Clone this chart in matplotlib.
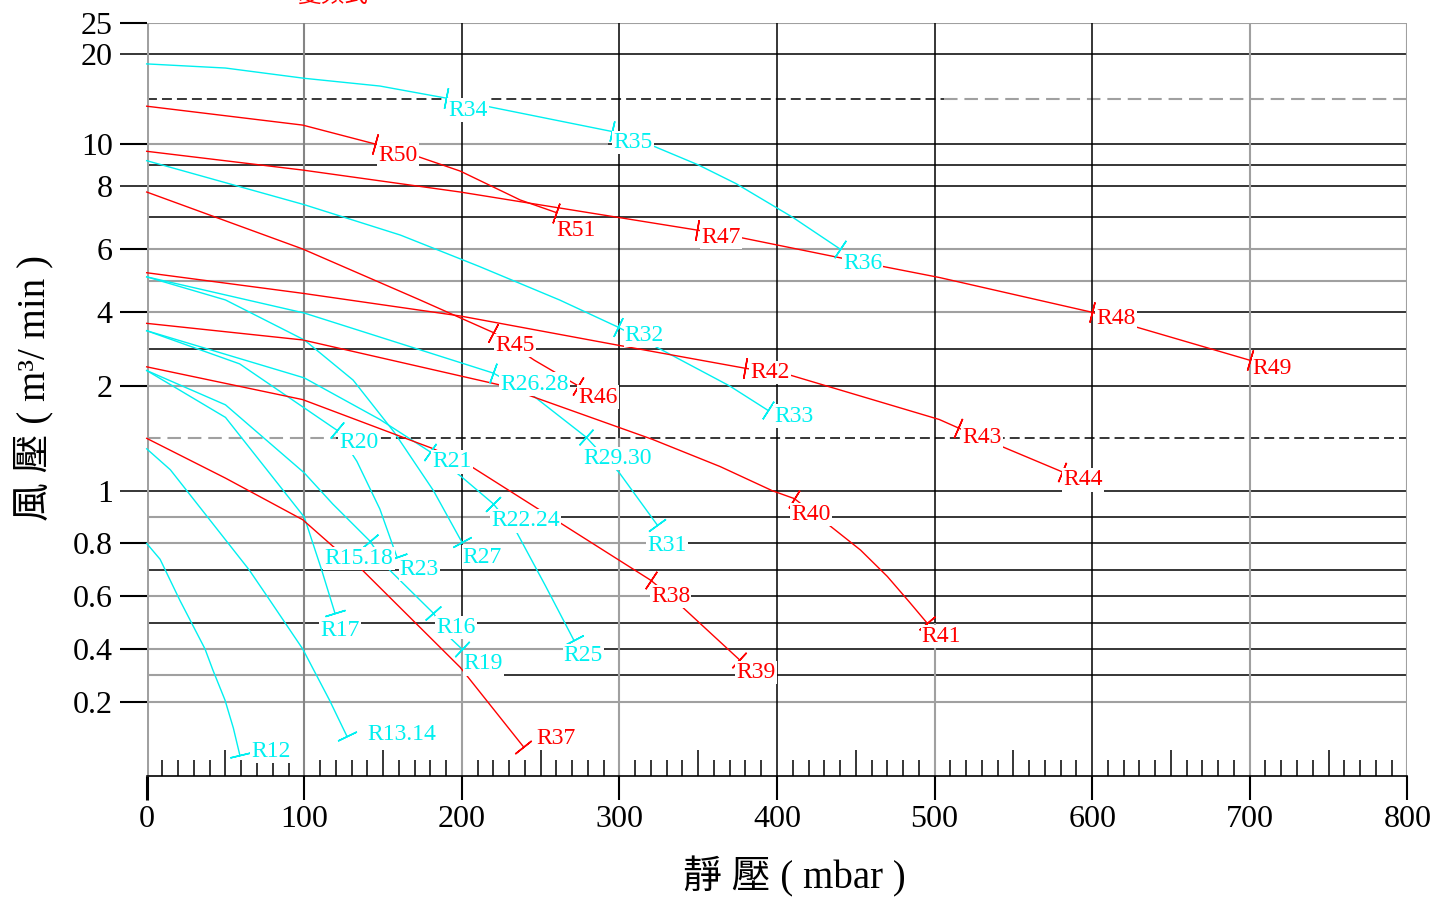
import numpy as np
import matplotlib
matplotlib.use("Agg")
import matplotlib.pyplot as plt
from matplotlib.ticker import FixedLocator

FONT = ['Liberation Serif', 'Noto Sans CJK TC']
CYAN = '#00f0f0'
RED = '#ff0000'
GRAY = '#a0a0a0'
BLACK = '#000000'

# ---- y axis: piecewise scale (value -> height above x axis) ----
scale_vals = [-0.2, 0.0, 0.2, 1, 2, 4, 8, 10, 20, 25]
scale_pos = [-31.6, 21.2, 74.0, 285.0, 389.7, 463.4, 590.0, 631.7, 721.7, 753.0]

y_ticks = [25, 20, 10, 8, 6, 4, 2, 1, 0.8, 0.6, 0.4, 0.2]
y_tick_labels = ['25', '20', '10', '8', '6', '4', '2', '1', '0.8', '0.6', '0.4', '0.2']
x_ticks = [0, 100, 200, 300, 400, 500, 600, 700, 800]

# ---- fan curves: static pressure (mbar) vs air flow (m3/min) ----
r34_x = [0, 50, 100, 148, 190, 295, 320, 350, 374, 410, 440]
r34_y = [18.9, 18.44, 17.3, 16.44, 15.1, 11.4, 9.95, 9.0, 8.1, 7.0, 6.0]
r32_x = [0, 100, 161, 211, 262, 299, 326, 370, 394]
r32_y = [9.2, 7.4, 6.44, 5.45, 4.39, 3.6, 3.0, 2.0, 1.77]
r26_x = [0, 100, 220, 245, 279, 300, 324]
r26_y = [5.12, 3.98, 2.35, 1.91, 1.51, 1.17, 0.87]
r27_x = [0, 50, 100, 131, 157, 182, 200]
r27_y = [5.12, 4.39, 3.25, 2.16, 1.56, 1.0, 0.805]
r20_x = [0, 59, 120.5, 133.4, 148, 158.7]
r20_y = [3.5, 2.6, 1.58, 1.28, 0.93, 0.75]
r21_x = [0, 100, 148, 180, 200, 220, 235, 253, 271]
r21_y = [3.5, 2.22, 1.68, 1.37, 1.13, 0.95, 0.84, 0.64, 0.434]
r15_x = [0, 50, 100, 118, 141.5, 154, 182, 192, 200]
r15_y = [2.42, 1.82, 1.17, 0.95, 0.81, 0.70, 0.535, 0.445, 0.40]
r17_x = [0, 50, 100, 111, 119.5]
r17_y = [2.42, 1.7, 0.9, 0.70, 0.535]
r13_x = [0, 15, 65, 78, 99, 116, 127]
r13_y = [1.4, 1.2, 0.70, 0.586, 0.40, 0.206, 0.07]
r12_x = [0, 8.5, 21, 27.5, 37, 42, 49.7, 55, 59]
r12_y = [0.8, 0.74, 0.585, 0.51, 0.40, 0.32, 0.206, 0.1, 0.0]

r50_x = [0, 99, 145, 172, 199, 237, 260]
r50_y = [14.2, 12.1, 10.0, 9.4, 8.7, 7.55, 7.15]
r47_x = [0, 99, 199, 299, 349, 378, 467, 503, 600, 628, 700]
r47_y = [9.65, 8.75, 7.8, 7.0, 6.6, 6.35, 5.45, 5.1, 4.0, 3.6, 2.7]
r45_x = [0, 99, 173, 220, 246, 274]
r45_y = [7.8, 6.0, 4.4, 3.45, 2.7, 2.0]
r42_x = [0, 99, 199, 300, 380, 408, 503, 515, 543, 581]
r42_y = [5.25, 4.6, 3.9, 3.1, 2.48, 2.3, 1.68, 1.6, 1.42, 1.18]
r40_x = [0, 99, 224, 321, 364, 397, 411, 434, 453, 470, 484, 495]
r40_y = [3.7, 3.25, 2.03, 1.49, 1.23, 1.0, 0.97, 0.865, 0.775, 0.675, 0.578, 0.5]
r38_x = [0, 99, 182, 205, 320, 337, 376]
r38_y = [2.52, 1.87, 1.4, 1.24, 0.66, 0.575, 0.36]
r37_x = [0, 50, 99, 118, 135, 199, 239]
r37_y = [1.5, 1.12, 0.89, 0.79, 0.71, 0.33, 0.03]

# (colour, x, y, [(point index, model name, label offset px (right, down))])
curves = [
    (CYAN, r34_x, r34_y, [(4, 'R34', (2, 12)), (5, 'R35', (2, 11)), (10, 'R36', (3, 14))]),
    (CYAN, r32_x, r32_y, [(5, 'R32', (7, 8)), (8, 'R33', (7, 6))]),
    (CYAN, r26_x, r26_y, [(2, 'R26.28', (7, 11)), (4, 'R29.30', (-3, 21)), (6, 'R31', (-10, 21))]),
    (CYAN, r27_x, r27_y, [(6, 'R27', (1, 15))]),
    (CYAN, r20_x, r20_y, [(2, 'R20', (3, 13)), (5, 'R23', (3, 13))]),
    (CYAN, r21_x, r21_y, [(3, 'R21', (2, 10)), (5, 'R22.24', (-2, 17)), (8, 'R25', (-10, 16))]),
    (CYAN, r15_x, r15_y, [(4, 'R15.18', (-45, 18)), (6, 'R16', (3, 14)), (8, 'R19', (2, 15))]),
    (CYAN, r17_x, r17_y, [(4, 'R17', (-15, 17))]),
    (CYAN, r13_x, r13_y, [(6, 'R13.14', (21, -2))]),
    (CYAN, r12_x, r12_y, [(8, 'R12', (12, -3))]),
    (RED, r50_x, r50_y, [(2, 'R50', (3, 11)), (6, 'R51', (0, 18))]),
    (RED, r47_x, r47_y, [(4, 'R47', (5, 7)), (8, 'R48', (4, 6)), (10, 'R49', (3, 8))]),
    (RED, r45_x, r45_y, [(3, 'R45', (2, 13)), (5, 'R46', (0, 11))]),
    (RED, r42_x, r42_y, [(4, 'R42', (5, 4)), (7, 'R43', (4, 10)), (9, 'R44', (1, 8))]),
    (RED, r40_x, r40_y, [(6, 'R40', (-3, 16)), (11, 'R41', (-5, 14))]),
    (RED, r38_x, r38_y, [(4, 'R38', (0, 16)), (6, 'R39', (-3, 13))]),
    (RED, r37_x, r37_y, [(6, 'R37', (13, -8))]),
]

# horizontal grid rows: (value, split x, colour left, colour right, dashed)
h_rows = [
    (25, 800, GRAY, BLACK, False), (20, 0, GRAY, BLACK, False),
    (15, 506, BLACK, GRAY, True), (10, 293, GRAY, BLACK, False),
    (9, 0, GRAY, BLACK, False), (8, 0, GRAY, BLACK, False),
    (7, 0, GRAY, BLACK, False), (6, 800, GRAY, BLACK, False),
    (5, 800, GRAY, BLACK, False), (4, 600, GRAY, BLACK, False),
    (3, 0, GRAY, BLACK, False), (2, 224, GRAY, BLACK, False),
    (1.5, 120, GRAY, BLACK, True), (1, 0, GRAY, BLACK, False),
    (0.9, 220, GRAY, BLACK, False), (0.8, 320, GRAY, BLACK, False),
    (0.7, 0, GRAY, BLACK, False), (0.6, 320, GRAY, BLACK, False),
    (0.5, 0, GRAY, BLACK, False), (0.4, 270, GRAY, BLACK, False),
    (0.3, 200, GRAY, BLACK, False), (0.2, 800, GRAY, BLACK, False),
]
# vertical grid: (x, split y, colour below, colour above)
v_rows = [
    (0, 25, GRAY, GRAY), (100, 25, '#858585', '#858585'), (200, 0.45, GRAY, BLACK),
    (300, 1.5, GRAY, BLACK), (400, -1, GRAY, BLACK), (500, 0.5, GRAY, BLACK),
    (600, -1, GRAY, BLACK), (700, 25, GRAY, GRAY), (800, 25, GRAY, GRAY),
]


def fwd(v):
    return np.interp(v, scale_vals, scale_pos)


def inv(p):
    return np.interp(p, scale_pos, scale_vals)


fig = plt.figure(figsize=(14.32, 8.97), dpi=100)
ax = fig.add_axes([146.7 / 1432, 1 - 775.7 / 897, 1260.6 / 1432, 753.0 / 897])
ax.set_yscale('function', functions=(fwd, inv))
ax.set_xlim(0, 800)
y_bottom = inv(0.0)
ax.set_ylim(y_bottom, 25)

for side in ['top', 'left', 'right']:
    ax.spines[side].set_visible(False)
ax.spines['bottom'].set_color(BLACK)
ax.spines['bottom'].set_linewidth(1.2)

# grid
for val, split, c_left, c_right, dashed in h_rows:
    ls = (0, (6.5, 3.3)) if dashed else '-'
    for x0, x1, c in [(0, split, c_left), (split, 800, c_right)]:
        if x1 > x0:
            lw = 1.5 if c == GRAY else 1.1
            ax.hlines(val, x0, x1, colors=c, linewidth=lw, linestyle=ls, zorder=1)
for xv, split, c_low, c_up in v_rows:
    for y0, y1, c in [(y_bottom, split, c_low), (split, 25, c_up)]:
        if y1 > y0:
            lw = 1.5 if c != BLACK else 1.1
            if xv == 0:
                lw = 2.2
            ax.vlines(xv, max(y0, y_bottom), min(y1, 25), colors=c, linewidth=lw, zorder=1)

# ticks
ax.set_yticks(y_ticks)
ax.set_yticklabels(y_tick_labels)
ax.yaxis.set_minor_locator(FixedLocator([]))
ax.tick_params(axis='y', which='major', direction='out', length=19.4, width=1.4,
               pad=5.0, labelsize=23)
for tick, val in zip(ax.yaxis.get_major_ticks(), y_ticks):
    c = BLACK if val in (20, 8, 1) else GRAY
    tick.tick1line.set_color(c)
    tick.tick1line.set_markeredgewidth(1.1 if c == BLACK else 1.5)

ax.set_xticks(x_ticks)
ax.set_xticklabels([str(v) for v in x_ticks])
ax.tick_params(axis='x', which='major', direction='out', length=17.3, width=1.4,
               pad=4.0, labelsize=23)
for tick, (xv, split, c_low, c_up) in zip(ax.xaxis.get_major_ticks(), v_rows):
    tick.tick1line.set_color(c_low)
    tick.tick1line.set_markeredgewidth(2.2 if xv == 0 else (1.1 if c_low == BLACK else 1.5))

minor_x = [v for v in range(10, 800, 10) if v % 100]
ax.xaxis.set_minor_locator(FixedLocator(minor_x))
ax.tick_params(axis='x', which='minor', direction='in', length=11.5, width=1.1, color=BLACK)
for tick, v in zip(ax.xaxis.get_minor_ticks(), minor_x):
    if v % 50 == 0:
        tick.tick1line.set_markersize(18.7)

for lab in ax.get_xticklabels() + ax.get_yticklabels():
    lab.set_family(FONT)

# curves, end marks and model labels
for color, xs, ys, marks in curves:
    ax.plot(xs, ys, color=color, linewidth=1.0, zorder=3, clip_on=False)
    pts = ax.transData.transform(np.column_stack([xs, ys]))
    for idx, name, (dx, dy) in marks:
        a = pts[max(idx - 1, 0)]
        b = pts[min(idx + 1, len(xs) - 1)]
        ang = np.degrees(np.arctan2(b[1] - a[1], b[0] - a[0]))
        ax.plot([xs[idx]], [ys[idx]], linestyle='none', marker=(2, 2, ang),
                markersize=15, markeredgewidth=1.1, color=color, zorder=4, clip_on=False)
        ax.annotate(name, xy=(xs[idx], ys[idx]), xytext=(dx * 0.72, -dy * 0.72),
                    textcoords='offset points', ha='left', va='center', color=color,
                    fontsize=17, family=FONT, zorder=5,
                    bbox=dict(boxstyle='square,pad=0.05', fc='white', ec='none'))

# axis titles
fig.text(794 / 1432, 1 - 877 / 897, '靜 壓 ( mbar )', ha='center', va='center',
         fontsize=28, family=FONT)
fig.text(34 / 1432, 1 - 388 / 897, '風 壓 ( m³/ min )', ha='center', va='center',
         rotation=90, fontsize=28, family=FONT)
fig.text(333 / 1432, 1 + 4 / 897, '變頻式', ha='center', va='center',
         fontsize=17, color=RED, family=FONT)

fig.savefig('out.png', dpi=100)
